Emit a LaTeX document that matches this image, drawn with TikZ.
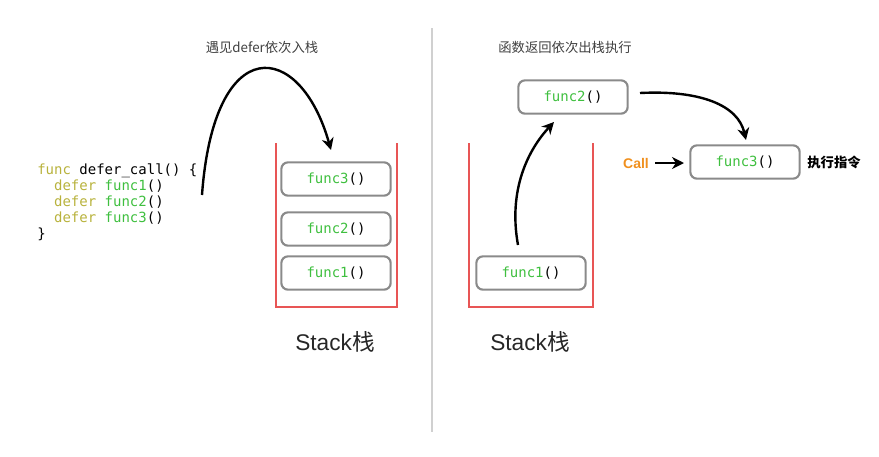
\documentclass[tikz,border=0pt]{standalone}
\usepackage{fontspec}
\setmainfont{Noto Sans CJK SC}
\newfontfamily\cjk{Noto Sans CJK SC}
\newfontfamily\codefont{DejaVu Sans Mono}
\newfontfamily\hel{Liberation Sans}
\usetikzlibrary{arrows.meta}
\definecolor{kw}{HTML}{B8B23C}
\definecolor{fn}{HTML}{3FBF3F}
\definecolor{stk}{HTML}{E85555}
\definecolor{bx}{HTML}{8A8A8A}
\definecolor{callc}{HTML}{F0901E}
\definecolor{divc}{HTML}{D0D0D0}
\tikzset{
  fbox/.style={draw=bx, line width=1.6pt, rounded corners=5pt, minimum width=82pt, minimum height=25pt, inner sep=0pt, font=\codefont\fontsize{10.5}{12}\selectfont},
  stackwall/.style={draw=stk, line width=1.5pt},
  arr/.style={draw=black, line width=1.8pt, -{Stealth[length=9pt,width=9pt]}},
  title/.style={font=\cjk\fontsize{10}{12}\selectfont, text=black!75},
  stacklbl/.style={font=\hel\fontsize{17}{20}\selectfont, text=black!85},
}
\begin{document}
\begin{tikzpicture}[x=0.75pt,y=-0.75pt]
\useasboundingbox (0,0) rectangle (879,457);
% divider
\draw[divc, line width=0.8pt] (432,28) -- (432,432);
% code
\node[anchor=north west, align=left, inner sep=0pt, font=\codefont\fontsize{10.5}{12}\selectfont] (code) at (37,164) {%
\textcolor{kw}{func} defer\_call() \{\\
\ \ \textcolor{kw}{defer} \textcolor{fn}{func1}()\\
\ \ \textcolor{kw}{defer} \textcolor{fn}{func2}()\\
\ \ \textcolor{kw}{defer} \textcolor{fn}{func3}()\\
\}};
% left stack
\draw[stackwall] (276,143) -- (276,307) -- (397,307) -- (397,143);
\node[fbox] (l3) at (336,179) {\textcolor{fn}{func3}()};
\node[fbox] (l2) at (336,229) {\textcolor{fn}{func2}()};
\node[fbox] (l1) at (336,273) {\textcolor{fn}{func1}()};
\node[title] (t1) at (262,47) {遇见defer依次入栈};
\node[stacklbl] (s1) at (335,342) {Stack{\cjk 栈}};
\coordinate (a1s) at (202,195);
\coordinate (a1e) at (331,150);
\draw[arr] (a1s) .. controls (214,30) and (300,40) .. (a1e);
% right stack
\draw[stackwall] (469,143) -- (469,307) -- (593,307) -- (593,143);
\node[fbox] (r1) at (531,273) {\textcolor{fn}{func1}()};
\node[fbox] (r2) at (573,97) {\textcolor{fn}{func2}()};
\node[fbox] (r3) at (745,162) {\textcolor{fn}{func3}()};
\node[title] (t2) at (565,47) {函数返回依次出栈执行};
\node[stacklbl] (s2) at (530,342) {Stack{\cjk 栈}};
\coordinate (b1s) at (518,245);
\coordinate (b1e) at (554,122);
\draw[arr] (b1s) .. controls (508,190) and (528,150) .. (b1e);
\coordinate (c1s) at (640,93);
\coordinate (c1e) at (746,140);
\draw[arr] (c1s) .. controls (700,90) and (738,105) .. (c1e);
\node[font=\hel\bfseries\fontsize{10.5}{12}\selectfont, text=callc] (call) at (636,163) {Call};
\coordinate (d1s) at (655,163);
\coordinate (d1e) at (684,163);
\draw[arr] (d1s) -- (d1e);
\node[font=\cjk\bfseries\fontsize{10}{12}\selectfont] (exec) at (834,162) {执行指令};
\end{tikzpicture}
\end{document}
